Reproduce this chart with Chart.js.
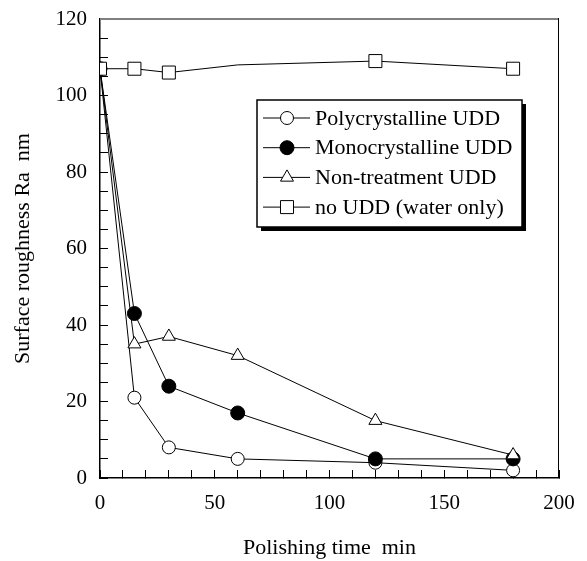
<!DOCTYPE html>
<html>
<head>
<meta charset="utf-8">
<script src="https://cdn.jsdelivr.net/npm/chart.js@4.4.0/dist/chart.umd.min.js"></script>
<style>
  html, body { margin: 0; padding: 0; background: #fff; }
  #wrap { width: 587px; height: 561px; }
</style>
</head>
<body>
<div id="wrap"><canvas id="chart"></canvas></div>
<script>
// polishing time (min) and surface roughness Ra (nm)
const times = [0, 15, 30, 60, 120, 180];
const polyRa = [107, 21, 8, 5, 4, 2];
const monoRa = [107, 43, 24, 17, 5, 5];
const nonTreatRa = [107, 35, 37, 32, 15, 6];
const waterRa = [107, 107, 106, 108, 109, 107];
const waterMarker = [true, true, true, false, true, true]; // no symbol at 60 min
const seriesNames = [
  "Polycrystalline UDD",
  "Monocrystalline UDD",
  "Non-treatment UDD",
  "no UDD (water only)",
];
const xLabelTicks = [0, 50, 100, 150, 200];
const yLabelTicks = [0, 20, 40, 60, 80, 100, 120];

const FONT = "'Liberation Serif', 'Times New Roman', serif";

function pts(values) {
  return times.map((t, i) => ({ x: t, y: values[i] }));
}

const datasets = [
  {
    label: seriesNames[0], data: pts(polyRa), order: 3,
    pointStyle: "circle", pointRadius: 6.5,
    backgroundColor: "#fff",
  },
  {
    label: seriesNames[1], data: pts(monoRa), order: 2,
    pointStyle: "circle", pointRadius: 7,
    backgroundColor: "#000",
  },
  {
    label: seriesNames[2], data: pts(nonTreatRa), order: 1,
    pointStyle: "triangle", pointRadius: 7.5,
    backgroundColor: "#fff",
  },
  {
    label: seriesNames[3], data: pts(waterRa), order: 0,
    pointStyle: "rect", pointRadius: waterMarker.map((m) => (m ? 9.2 : 0)),
    backgroundColor: "#fff",
  },
].map((d) => Object.assign(d, {
  borderColor: "#000",
  borderWidth: 1,
  pointBorderWidth: 1,
  pointBorderColor: "#000",
  pointBackgroundColor: d.backgroundColor,
  pointHoverRadius: d.pointRadius,
  tension: 0,
  fill: false,
}));

// frame on top / right and boxed legend with shadow
const framePlugin = {
  id: "frame",
  beforeDatasetsDraw(chart) {
    const { ctx, chartArea: a } = chart;
    ctx.save();
    ctx.strokeStyle = "#808080";
    ctx.lineWidth = 2;
    ctx.beginPath();
    ctx.moveTo(a.left, a.top);
    ctx.lineTo(a.right, a.top);
    ctx.stroke();
    ctx.strokeStyle = "#000";
    ctx.lineWidth = 1;
    ctx.beginPath();
    ctx.moveTo(a.right - 0.5, a.top - 1);
    ctx.lineTo(a.right - 0.5, a.bottom);
    ctx.stroke();
    ctx.restore();
  },
};

function marker(ctx, style, r, fill, x, y) {
  ctx.fillStyle = fill;
  ctx.strokeStyle = "#000";
  ctx.lineWidth = 1;
  ctx.beginPath();
  if (style === "circle") {
    ctx.arc(x, y, r, 0, Math.PI * 2);
  } else if (style === "triangle") {
    for (let k = 0; k < 3; k++) {
      const ang = k * 2 * Math.PI / 3;
      const px = x + Math.sin(ang) * r, py = y - Math.cos(ang) * r;
      if (k === 0) ctx.moveTo(px, py); else ctx.lineTo(px, py);
    }
    ctx.closePath();
  } else {
    const s = r * Math.SQRT1_2;
    ctx.rect(x - s, y - s, 2 * s, 2 * s);
  }
  ctx.fill();
  ctx.stroke();
}

const legendPlugin = {
  id: "boxLegend",
  afterDraw(chart) {
    const { ctx } = chart;
    const bx = 257, by = 100, bw = 265, bh = 127;
    ctx.save();
    ctx.fillStyle = "#000";
    ctx.fillRect(bx + 4, by + 4, bw, bh);
    ctx.fillStyle = "#fff";
    ctx.fillRect(bx, by, bw, bh);
    ctx.strokeStyle = "#000";
    ctx.lineWidth = 1.5;
    ctx.strokeRect(bx, by, bw, bh);
    datasets.forEach((d, i) => {
      const y = 118 + i * 29.7;
      ctx.strokeStyle = "#000";
      ctx.lineWidth = 1;
      ctx.beginPath();
      ctx.moveTo(263, y);
      ctx.lineTo(310, y);
      ctx.stroke();
      const r = Array.isArray(d.pointRadius) ? d.pointRadius[0] : d.pointRadius;
      marker(ctx, d.pointStyle, r, d.backgroundColor, 287, y);
      ctx.fillStyle = "#000";
      ctx.font = "22px " + FONT;
      ctx.textAlign = "left";
      ctx.textBaseline = "middle";
      ctx.fillText(d.label, 315, y + 1);
    });
    ctx.restore();
  },
};

function noScalePadding(s) {
  s.paddingTop = 0;
  s.paddingBottom = 0;
  s.paddingLeft = 0;
  s.paddingRight = 0;
}

new Chart(document.getElementById("chart"), {
  type: "line",
  data: { datasets: datasets },
  plugins: [framePlugin, legendPlugin],
  options: {
    responsive: true,
    maintainAspectRatio: false,
    animation: false,
    events: [],
    layout: { padding: { left: 0, top: 19, right: 28, bottom: 0 } },
    plugins: { legend: { display: false }, tooltip: { enabled: false } },
    scales: {
      x: {
        type: "linear",
        min: 0,
        max: 200,
        afterFit: (s) => { s.height = 83; noScalePadding(s); },
        ticks: {
          stepSize: 10,
          autoSkip: false,
          maxRotation: 0,
          padding: 21,
          color: "#000",
          font: { family: FONT, size: 21 },
          callback: (v) => (xLabelTicks.includes(v) ? String(v) : ""),
        },
        grid: { drawOnChartArea: false, drawTicks: true, tickLength: -8, color: "#000", lineWidth: 1 },
        border: { display: true, color: "#000", width: 1.5 },
        title: {
          display: true,
          text: "Polishing time  min",
          color: "#000",
          font: { family: FONT, size: 22 },
          padding: { top: 0, bottom: 0 },
        },
      },
      y: {
        min: 0,
        max: 120,
        afterFit: (s) => { s.width = 100; noScalePadding(s); },
        ticks: {
          stepSize: 5,
          autoSkip: false,
          padding: 21,
          color: "#000",
          font: { family: FONT, size: 21 },
          callback: (v) => (yLabelTicks.includes(v) ? String(v) : ""),
        },
        grid: { drawOnChartArea: false, drawTicks: true, tickLength: -8, color: "#000", lineWidth: 1 },
        border: { display: true, color: "#000", width: 1.5 },
        title: {
          display: true,
          text: "Surface roughness Ra  nm",
          color: "#000",
          font: { family: FONT, size: 22 },
          padding: { top: 10, bottom: 0 },
        },
      },
    },
  },
});
</script>
</body>
</html>
